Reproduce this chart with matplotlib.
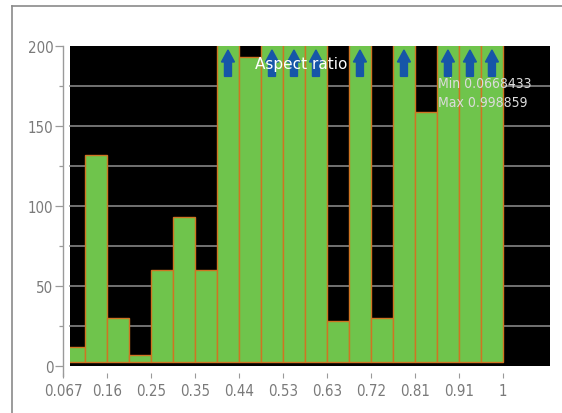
import numpy as np
import matplotlib
matplotlib.use("Agg")
import matplotlib.pyplot as plt
from matplotlib.patches import Rectangle
from matplotlib.lines import Line2D

# ---- data -------------------------------------------------------------
title = "Aspect ratio"
x_min = 0.0668433
x_max = 0.998859
# counts per bin (20 equal bins between x_min and x_max); values above
# the 200 ceiling are shown clipped with an arrow
bin_counts = [12, 132, 30, 7, 60, 93, 60, 262, 193, 231, 248, 219,
              28, 274, 30, 305, 159, 226, 241, 257]
x_tick_labels = ["0.067", "0.16", "0.25", "0.35", "0.44", "0.53",
                 "0.63", "0.72", "0.81", "0.91", "1"]
y_major = [0, 50, 100, 150, 200]
y_minor = [25, 75, 125, 175]
y_max = 200

# ---- style ------------------------------------------------------------
label_font = dict(family="DejaVu Sans", stretch="condensed")
tick_grey = "#7a7a7a"
bar_green = "#6fc44c"
bar_edge = "#cf7422"
arrow_blue = "#1656a8"

fig = plt.figure(figsize=(5.62, 4.14), dpi=100)
W, H = 562, 414
ax = fig.add_axes([63 / W, 1 - 367 / H, 487 / W, 320 / H])
ax.set_facecolor("white")

n_bins = len(bin_counts)
edges = np.linspace(x_min, x_max, n_bins + 1)
bw = edges[1] - edges[0]
x_right = x_max + 1.07 * bw * 2
ax.set_xlim(x_min, x_right)
ax.set_ylim(0, y_max)

# black plotting panel, slightly inset from the y axis
panel_left = 7 / 487
panel = Rectangle((panel_left, 0), 1 - panel_left, 1, transform=ax.transAxes,
                  facecolor="black", edgecolor="none", zorder=0)
ax.add_patch(panel)

# horizontal grid lines inside the panel
for y in y_major[1:-1] + y_minor:
    ax.axhline(y, xmin=panel_left, xmax=1, color="#858585", lw=1.2, zorder=1)

# bars
base = 2.5
heights = [min(c, y_max + 5) - base for c in bin_counts]
bars = ax.bar(edges[:-1], heights, width=bw, bottom=base, align="edge",
              color=bar_green, edgecolor=bar_edge, linewidth=1.0, zorder=2)
for b in bars:
    b.set_clip_path(panel)

# arrows on bars that overflow the top of the scale
x_per_px = (x_right - x_min) / 487
for left, c in zip(edges[:-1], bin_counts):
    if c > y_max:
        xc = left + bw / 2
        ax.arrow(xc, 181, 0, 16.5, width=7 * x_per_px,
                 head_width=13 * x_per_px, head_length=7.5,
                 length_includes_head=True, color=arrow_blue, zorder=3)

# title and min/max annotation
ax.text(0.489, 0.945, title, transform=ax.transAxes, ha="center",
        va="center", color="white", fontsize=11, family="DejaVu Sans",
        zorder=4)
ax.text(0.770, 0.884, f"Min {x_min}", transform=ax.transAxes, ha="left",
        va="center", color="#dcdcdc", fontsize=10, zorder=4, **label_font)
ax.text(0.770, 0.825, f"Max {x_max}", transform=ax.transAxes, ha="left",
        va="center", color="#dcdcdc", fontsize=10, zorder=4, **label_font)

# axes, ticks and spines
for s in ("top", "right"):
    ax.spines[s].set_visible(False)
ax.spines["bottom"].set_position(("outward", 5))
ax.spines["bottom"].set_visible(False)
ax.spines["left"].set_color("#9a9a9a")
ax.spines["left"].set_linewidth(1.0)
ax.spines["left"].set_bounds(-6, y_max)

ax.set_xticks(np.linspace(x_min, x_max, len(x_tick_labels)))
ax.set_xticklabels(x_tick_labels)
ax.set_yticks(y_major)
ax.set_yticks(y_minor, minor=True)
ax.tick_params(axis="x", direction="out", length=3.5, width=0.8,
               color="#9a9a9a", labelcolor=tick_grey, pad=3.5)
ax.tick_params(axis="y", which="major", direction="out", length=5.5,
               width=0.9, color="#9a9a9a", labelcolor=tick_grey, pad=1.5)
ax.tick_params(axis="y", which="minor", direction="out", length=2.8,
               width=0.9, color="#9a9a9a")
for lab in ax.get_xticklabels() + ax.get_yticklabels():
    lab.set_family(label_font["family"])
    lab.set_stretch(label_font["stretch"])
    lab.set_fontsize(10.8)

# outer frame lines
fig.add_artist(Line2D([12 / W, 12 / W], [0, 1 - 7 / H],
                      transform=fig.transFigure, color="#8a8a8a", lw=1.2))
fig.add_artist(Line2D([12 / W, 1], [1 - 7 / H, 1 - 7 / H],
                      transform=fig.transFigure, color="#8a8a8a", lw=1.2))

fig.savefig("out.png", dpi=100)
